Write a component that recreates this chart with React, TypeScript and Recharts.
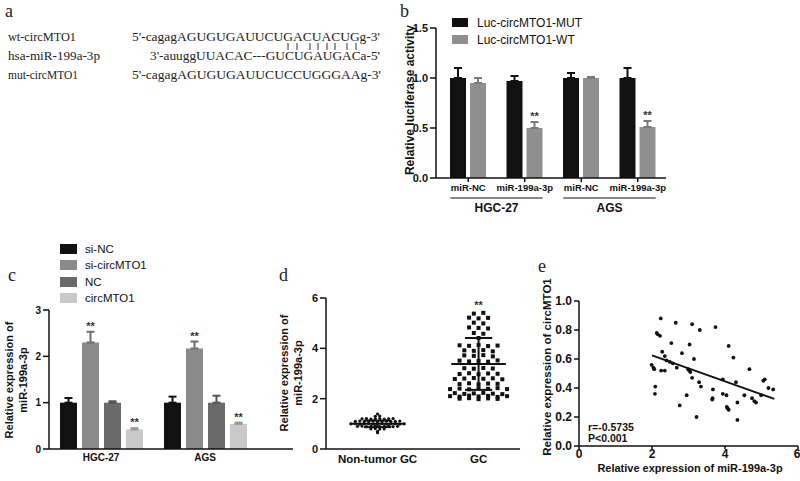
import React from "react";
import {
  Bar,
  BarChart,
  ErrorBar,
  LabelList,
  Legend,
  ReferenceDot,
  ReferenceLine,
  Scatter,
  ScatterChart,
  XAxis,
  YAxis,
  ZAxis
} from "recharts";

const SANS = '"Liberation Sans", Arial, sans-serif';
const SERIF = '"Liberation Serif", "Times New Roman", serif';
const INK = "#111";

// panel b: luciferase reporter
const lucTreat = ["miR-NC", "miR-199a-3p", "miR-NC", "miR-199a-3p"];
const lucCells = ["HGC-27", "AGS"];
const lucNames = ["Luc-circMTO1-MUT", "Luc-circMTO1-WT"];
const lucMut = [1.0, 0.97, 1.0, 1.0];
const lucMutErr = [0.1, 0.05, 0.05, 0.1];
const lucWt = [0.95, 0.5, 1.0, 0.51];
const lucWtErr = [0.05, 0.06, 0.01, 0.06];
const lucWtSig = ["", "**", "", "**"];

// panel c: qPCR of miR-199a-3p
const qCells = ["HGC-27", "AGS"];
const qNames = ["si-NC", "si-circMTO1", "NC", "circMTO1"];
const qSiNC = [1.0, 1.0];
const qSiNCErr = [0.1, 0.13];
const qSiCirc = [2.3, 2.17];
const qSiCircErr = [0.23, 0.15];
const qNC = [1.0, 1.0];
const qNCErr = [0.03, 0.15];
const qCirc = [0.42, 0.54];
const qCircErr = [0.03, 0.03];
const qSig = ["**", "**"];

// panel d: tissue expression
const tissueGroups = ["Non-tumor GC", "GC"];
const nonTumorVals = [
  1.39, 1.3, 1.31,
  1.2, 1.21, 1.19, 1.2, 1.21, 1.19, 1.2, 1.21,
  1.1, 1.11, 1.09, 1.1, 1.11, 1.09, 1.1, 1.11, 1.09, 1.1, 1.11,
  1.0, 1.01, 0.99, 1.0, 1.01, 0.99, 1.0, 1.01, 0.99, 1.0, 1.01, 0.99, 1.0,
  0.9, 0.91, 0.89, 0.9, 0.91, 0.89, 0.9, 0.91, 0.89, 0.9,
  0.8, 0.81, 0.79, 0.8,
  0.7, 0.65
];
const gcVals = [
  5.38, 5.41,
  5.22, 5.19, 5.21,
  5.02, 4.99,
  4.83, 4.81, 4.79,
  4.61, 4.58,
  4.41,
  4.12, 4.1, 4.13, 4.09, 4.11,
  3.92, 3.9, 3.93, 3.88,
  3.72, 3.7, 3.73, 3.68,
  3.51, 3.48, 3.5, 3.47, 3.52,
  3.21, 3.19, 3.22, 3.2,
  2.98, 3.01, 2.97, 3.0, 2.99,
  2.78, 2.8, 2.82, 2.79, 2.81, 2.77,
  2.58, 2.61, 2.57, 2.6, 2.59,
  2.38, 2.4, 2.37, 2.41, 2.39, 2.42, 2.38,
  2.22, 2.19, 2.21, 2.23, 2.2, 2.18,
  2.1, 2.08, 2.12, 2.09, 2.11, 2.07, 2.1,
  2.0, 2.02, 1.98, 2.01, 1.99
];
const tissueMean = [1.0, 3.38];
const tissueSd = [0.13, 1.03];

// panel e: correlation
const corrMiR = [
  2.24, 2.65, 3.1, 3.31, 3.74, 2.13, 2.16, 2.22, 2.53, 3.03, 4.1, 2.28, 2.82, 2.35, 4.23,
  3.15, 2.4, 2.49, 2.57, 2.68, 1.99, 2.04, 2.06, 2.25, 2.35, 2.99, 3.02, 3.05, 3.1, 4.67,
  3.94, 3.29, 3.34, 4.3, 5.05, 5.09, 2.09, 2.08, 3.67, 3.94, 4.04, 3.66, 3.65, 2.95, 4.34,
  4.53, 4.74, 4.8, 4.85, 4.99, 5.19, 5.32, 4.05, 4.07, 4.1, 2.76, 3.22, 4.34
];
const corrCirc = [
  0.88, 0.85, 0.84, 0.8, 0.82, 0.78, 0.77, 0.76, 0.71, 0.7, 0.69, 0.65, 0.64, 0.62, 0.61,
  0.6, 0.59, 0.58, 0.57, 0.54, 0.56, 0.54, 0.53, 0.52, 0.52, 0.53, 0.52, 0.51, 0.47, 0.53,
  0.46, 0.44, 0.41, 0.44, 0.45, 0.46, 0.41, 0.36, 0.39, 0.36, 0.35, 0.33, 0.32, 0.35, 0.3,
  0.35, 0.33, 0.31, 0.3, 0.35, 0.4, 0.39, 0.27, 0.26, 0.25, 0.28, 0.2, 0.18
];
const fitRange = [2.0, 5.35];
const fitSlope = -0.0896;
const fitIntercept = 0.804;

const axisLine = { stroke: INK, strokeWidth: 1.5 };
const tickLine = { stroke: INK, strokeWidth: 1.5 };
const tickFont = (size: number) => ({ fontSize: size, fontWeight: "bold", fill: INK, fontFamily: SANS });

function legendContent(boxW: number, boxH: number, rowH: number, fontSize: number, gap: number) {
  return (props: any) => (
    <div style={{ fontFamily: SANS, fontSize, color: INK }}>
      {(props.payload ?? []).map((e: any) => (
        <div key={e.value} style={{ display: "flex", alignItems: "center", height: rowH }}>
          <span style={{ width: boxW, height: boxH, background: e.color, marginRight: gap, display: "inline-block" }} />
          <span>{e.value}</span>
        </div>
      ))}
    </div>
  );
}

// "**" above the error bar; pixel scale taken from the bar's own height
function starLabel(values: number[], errs: number[]) {
  return (p: any) => {
    const { x, y, width, height, value, index } = p;
    if (!value) return null;
    const perUnit = height / values[index];
    return (
      <text x={x + width / 2} y={y - errs[index] * perUnit - 2} textAnchor="middle"
        fontSize={11} fontWeight="bold" fill="#333" fontFamily={SANS}>
        {value}
      </text>
    );
  };
}

function LucTick(props: any) {
  const { x, y, payload, index } = props;
  const half = payload?.offset ?? 28;
  return (
    <g fontFamily={SANS} fontWeight="bold" fill={INK}>
      <text x={x} y={y + 7} textAnchor="middle" fontSize={9.5}>{payload.value}</text>
      {index % 2 === 0 ? (
        <>
          <line x1={x - 18} x2={x + 2 * half + 18} y1={y + 14} y2={y + 14} stroke={INK} strokeWidth={1} />
          <text x={x + half} y={y + 28} textAnchor="middle" fontSize={12}>{lucCells[index / 2]}</text>
        </>
      ) : null}
    </g>
  );
}

function LucChart() {
  const data = lucTreat.map((t, i) => ({
    name: t,
    mut: lucMut[i],
    mutErr: [0, lucMutErr[i]],
    wt: lucWt[i],
    wtErr: [0, lucWtErr[i]],
    wtSig: lucWtSig[i]
  }));
  return (
    <BarChart width={290} height={225} data={data} barSize={16} barGap={4}
      margin={{ top: 28, right: 14, bottom: 7, left: 0 }}>
      <XAxis dataKey="name" height={40} interval={0} tick={<LucTick />} tickSize={4} tickMargin={2}
        axisLine={axisLine} tickLine={tickLine} padding={{ left: 4, right: 0 }} />
      <YAxis domain={[0, 1.5]} ticks={[0, 0.5, 1, 1.5]} width={46} tickSize={6}
        tickFormatter={(v: number) => v.toFixed(1)} tick={tickFont(11)} axisLine={axisLine} tickLine={tickLine} />
      <Legend layout="vertical" align="center" verticalAlign="middle"
        itemSorter={(e: any) => lucNames.indexOf(e.value)}
        wrapperStyle={{ top: 14, left: 62, width: 200 }} content={legendContent(16, 9, 17, 12, 9)} />
      <Bar dataKey="mut" name={lucNames[0]} fill={INK} isAnimationActive={false}>
        <ErrorBar dataKey="mutErr" width={4} strokeWidth={2} stroke={INK} />
      </Bar>
      <Bar dataKey="wt" name={lucNames[1]} fill="#8f8f8f" isAnimationActive={false}>
        <ErrorBar dataKey="wtErr" width={4} strokeWidth={2} stroke="#7a7a7a" />
        <LabelList dataKey="wtSig" content={starLabel(lucWt, lucWtErr)} />
      </Bar>
    </BarChart>
  );
}

function QpcrChart() {
  const data = qCells.map((c, i) => ({
    name: c,
    siNC: qSiNC[i], siNCErr: [0, qSiNCErr[i]],
    siCirc: qSiCirc[i], siCircErr: [0, qSiCircErr[i]],
    nc: qNC[i], ncErr: [0, qNCErr[i]],
    circ: qCirc[i], circErr: [0, qCircErr[i]],
    sig: qSig[i]
  }));
  return (
    <BarChart width={300} height={256} data={data} barSize={17} barGap={5}
      margin={{ top: 85, right: 7, bottom: 7, left: 0 }}>
      <XAxis dataKey="name" height={25} tickLine={false} tickSize={0} tickMargin={5}
        tick={tickFont(10)} axisLine={axisLine} padding={{ left: 0, right: 36 }} />
      <YAxis domain={[0, 3]} ticks={[0, 1, 2, 3]} width={49} tickSize={6}
        tick={tickFont(10)} axisLine={axisLine} tickLine={tickLine} />
      <Legend layout="vertical" align="center" verticalAlign="middle"
        itemSorter={(e: any) => qNames.indexOf(e.value)}
        wrapperStyle={{ top: 16, left: 60, width: 150 }} content={legendContent(17, 10, 16.3, 11.5, 8)} />
      <Bar dataKey="siNC" name={qNames[0]} fill={INK} isAnimationActive={false}>
        <ErrorBar dataKey="siNCErr" width={4} strokeWidth={2} stroke={INK} />
      </Bar>
      <Bar dataKey="siCirc" name={qNames[1]} fill="#8a8a8a" isAnimationActive={false}>
        <ErrorBar dataKey="siCircErr" width={4} strokeWidth={2} stroke="#6f6f6f" />
        <LabelList dataKey="sig" content={starLabel(qSiCirc, qSiCircErr)} />
      </Bar>
      <Bar dataKey="nc" name={qNames[2]} fill="#6a6a6a" isAnimationActive={false}>
        <ErrorBar dataKey="ncErr" width={4} strokeWidth={2} stroke="#555" />
      </Bar>
      <Bar dataKey="circ" name={qNames[3]} fill="#c9c9c9" isAnimationActive={false}>
        <ErrorBar dataKey="circErr" width={4} strokeWidth={2} stroke="#9a9a9a" />
        <LabelList dataKey="sig" content={starLabel(qCirc, qCircErr)} />
      </Bar>
    </BarChart>
  );
}

// spread equal-ish values sideways into rows, like a column scatter plot
function swarm(values: number[], center: number, bin: number, step: number) {
  const rows = new Map<number, number[]>();
  values.forEach((v) => {
    const k = Math.round(v / bin);
    rows.set(k, [...(rows.get(k) ?? []), v]);
  });
  const pts: { x: number; y: number }[] = [];
  rows.forEach((vs) => vs.forEach((v, i) => pts.push({ x: center + (i - (vs.length - 1) / 2) * step, y: v })));
  return pts;
}

function TissueChart() {
  const normal = swarm(nonTumorVals, 1, 0.05, 0.044);
  const tumor = swarm(gcVals, 2, 0.1, 0.094);
  const line = { stroke: INK, strokeWidth: 2 };
  return (
    <ScatterChart width={255} height={256} margin={{ top: 73, right: 5, bottom: 7, left: 0 }}>
      <XAxis type="number" dataKey="x" domain={[0.49, 2.41]} ticks={[1, 2]} height={25}
        tickFormatter={(v: number) => tissueGroups[v - 1] ?? ""} tickLine={false} tickSize={0} tickMargin={6}
        tick={tickFont(11.5)} axisLine={axisLine} allowDataOverflow />
      <YAxis type="number" dataKey="y" domain={[0, 6]} ticks={[0, 2, 4, 6]} width={56} tickSize={6}
        tick={tickFont(11)} axisLine={axisLine} tickLine={tickLine} />
      <ZAxis range={[10, 10]} />
      <Scatter data={normal} fill={INK} isAnimationActive={false}
        shape={(p: any) => <circle cx={p.cx} cy={p.cy} r={1.6} fill={INK} />} />
      <Scatter data={tumor} fill={INK} isAnimationActive={false}
        shape={(p: any) => <rect x={p.cx - 2} y={p.cy - 2} width={4} height={4} fill={INK} />} />
      {tissueMean.map((m, i) => (
        <ReferenceLine key={"m" + i} segment={[{ x: i + 1 - 0.27, y: m }, { x: i + 1 + 0.27, y: m }]} {...line} />
      ))}
      {tissueMean.map((m, i) => (
        <ReferenceLine key={"v" + i} segment={[{ x: i + 1, y: m - tissueSd[i] }, { x: i + 1, y: m + tissueSd[i] }]} {...line} />
      ))}
      {tissueMean.map((m, i) => (
        <ReferenceLine key={"hi" + i} segment={[{ x: i + 1 - 0.135, y: m + tissueSd[i] }, { x: i + 1 + 0.135, y: m + tissueSd[i] }]} {...line} />
      ))}
      {tissueMean.map((m, i) => (
        <ReferenceLine key={"lo" + i} segment={[{ x: i + 1 - 0.135, y: m - tissueSd[i] }, { x: i + 1 + 0.135, y: m - tissueSd[i] }]} {...line} />
      ))}
      <ReferenceDot x={2} y={Math.max(...gcVals) + 0.32} r={0.01} fill="none" stroke="none"
        label={{ value: "**", position: "center", fontSize: 11, fontWeight: "bold", fill: "#333", fontFamily: SANS }} />
    </ScatterChart>
  );
}

function CorrChart() {
  const pts = corrMiR.map((x, i) => ({ x, y: corrCirc[i] }));
  const fit = fitRange.map((x) => ({ x, y: fitIntercept + fitSlope * x }));
  return (
    <ScatterChart width={280} height={256} margin={{ top: 76, right: 2, bottom: 0, left: 0 }}>
      <XAxis type="number" dataKey="x" domain={[0, 6]} ticks={[0, 2, 4, 6]} height={35} tickSize={3} tickMargin={0}
        tick={tickFont(12)} axisLine={axisLine} tickLine={tickLine} />
      <YAxis type="number" dataKey="y" domain={[0, 1]} ticks={[0, 0.2, 0.4, 0.6, 0.8, 1]} width={59} tickSize={5}
        tickFormatter={(v: number) => v.toFixed(1)} tick={tickFont(12)} axisLine={axisLine} tickLine={tickLine} />
      <ZAxis range={[12, 12]} />
      <Scatter data={pts} fill={INK} isAnimationActive={false}
        shape={(p: any) => <circle cx={p.cx} cy={p.cy} r={1.9} fill={INK} />} />
      <Scatter data={fit} line={{ stroke: INK, strokeWidth: 2 }} isAnimationActive={false} shape={() => <g />} />
    </ScatterChart>
  );
}

function VTitle({ x, y, lines, size }: { x: number; y: number; lines: string[]; size: number }) {
  return (
    <g transform={`translate(${x},${y}) rotate(-90)`}>
      {lines.map((t, i) => (
        <text key={t} x={0} y={i * (size + 2.5)} textAnchor="middle" dominantBaseline="central"
          fontFamily={SANS} fontWeight="bold" fontSize={size} fill={INK}>{t}</text>
      ))}
    </g>
  );
}

// base-pair ticks between the circMTO1 site and the miRNA seed
const pairTicks = [288, 297, 310, 318, 327, 335, 347, 356];

function Overlay() {
  const seq = { fontFamily: SERIF, fontSize: 13, fill: "#222", lengthAdjust: "spacingAndGlyphs" as const };
  const letter = { fontFamily: SERIF, fontSize: 18, fill: "#222" };
  return (
    <svg width={800} height={481} style={{ position: "absolute", left: 0, top: 0, pointerEvents: "none" }}>
      <text x={5} y={17} {...letter}>a</text>
      <text x={400} y={17} {...letter}>b</text>
      <text x={8} y={281} {...letter}>c</text>
      <text x={279} y={281} {...letter}>d</text>
      <text x={538} y={272} {...letter}>e</text>

      <text x={8} y={41} textLength={68} {...seq}>wt-circMTO1</text>
      <text x={132} y={41} textLength={248} {...seq}>5'-cagagAGUGUGAUUCUGACUACUGg-3'</text>
      {pairTicks.map((x) => (
        <line key={x} x1={x} x2={x} y1={43} y2={50} stroke="#333" strokeWidth={1} />
      ))}
      <text x={8} y={60} textLength={92} {...seq}>hsa-miR-199a-3p</text>
      <text x={150} y={60} textLength={230} {...seq}>3'-auuggUUACAC---GUCUGAUGACa-5'</text>
      <text x={8} y={79} textLength={70} {...seq}>mut-circMTO1</text>
      <text x={132} y={79} textLength={249} {...seq}>5'-cagagAGUGUGAUUCUCCUGGGAAg-3'</text>

      <VTitle x={410} y={100} lines={["Relative luciferase activity"]} size={12} />
      <VTitle x={9} y={380} lines={["Relative expression of", "miR-199a-3p"]} size={11} />
      <VTitle x={284} y={373} lines={["Relative expression of", "miR-199a-3p"]} size={11} />
      <VTitle x={547} y={367} lines={["Relative expression of circMTO1"]} size={11.5} />
      <text x={690} y={472} textAnchor="middle" fontFamily={SANS} fontWeight="bold" fontSize={11} fill={INK}>
        Relative expression of miR-199a-3p
      </text>
      <text x={588} y={431} fontFamily={SANS} fontWeight="bold" fontSize={10.5} fill={INK}>r=-0.5735</text>
      <text x={588} y={442} fontFamily={SANS} fontWeight="bold" fontSize={10.5} fill={INK}>P&lt;0.001</text>
    </svg>
  );
}

export default function App() {
  return (
    <div style={{ position: "absolute", left: 0, top: 0, width: 800, height: 481, background: "#fff", overflow: "hidden" }}>
      <div style={{ position: "absolute", left: 390, top: 0 }}><LucChart /></div>
      <div style={{ position: "absolute", left: 0, top: 225 }}><QpcrChart /></div>
      <div style={{ position: "absolute", left: 270, top: 225 }}><TissueChart /></div>
      <div style={{ position: "absolute", left: 520, top: 225 }}><CorrChart /></div>
      <Overlay />
    </div>
  );
}
